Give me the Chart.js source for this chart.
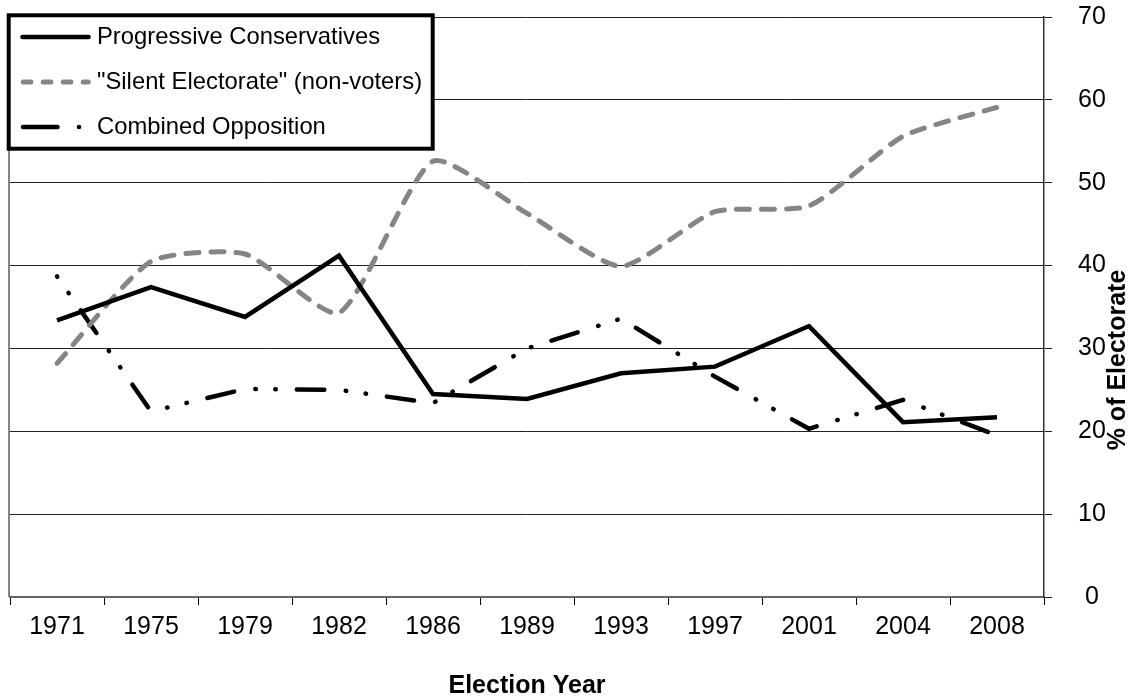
<!DOCTYPE html>
<html>
<head>
<meta charset="utf-8">
<script src="https://cdn.jsdelivr.net/npm/chart.js@4/dist/chart.umd.min.js"></script>
<style>
  html, body { margin: 0; padding: 0; background: #fff; }
  #wrap { width: 1130px; height: 696px; position: relative; }
</style>
</head>
<body>
<div id="wrap"><canvas id="electorateChart"></canvas></div>
<script>
const years = ['1971', '1975', '1979', '1982', '1986', '1989', '1993', '1997', '2001', '2004', '2008'];
const pcShare = [33.4, 37.4, 33.8, 41.2, 24.5, 23.9, 27.0, 27.8, 32.7, 21.1, 21.7];
const silentShare = [28.2, 40.5, 41.4, 34.3, 52.6, 46.3, 39.9, 46.5, 47.2, 55.6, 59.1];
const oppositionShare = [38.7, 22.4, 25.1, 25.0, 23.4, 30.0, 33.6, 26.6, 20.3, 23.8, 19.5];
const yTicks = [0, 10, 20, 30, 40, 50, 60, 70];

const FONT = '"Liberation Sans", Arial, sans-serif';

// legend box, y title and the grey left edge of the plot
const chartDecor = {
    id: 'chartDecor',
    beforeDatasetsDraw(chart) {
        const { ctx, chartArea } = chart;
        ctx.save();
        ctx.strokeStyle = '#858585';
        ctx.lineWidth = 2;
        ctx.beginPath();
        ctx.moveTo(chartArea.left - 1, chartArea.top);
        ctx.lineTo(chartArea.left - 1, chartArea.bottom);
        ctx.stroke();
        ctx.restore();
    },
    afterDraw(chart) {
        const ctx = chart.ctx;
        const sets = chart.data.datasets;

        ctx.save();
        ctx.translate(1118, 360);
        ctx.rotate(-Math.PI / 2);
        ctx.font = 'bold 25px ' + FONT;
        ctx.fillStyle = '#000';
        ctx.textAlign = 'center';
        ctx.textBaseline = 'middle';
        ctx.fillText('% of Electorate', 0, 0);
        ctx.restore();

        ctx.save();
        ctx.fillStyle = '#fff';
        ctx.fillRect(8.7, 15.3, 424, 133.4);
        ctx.strokeStyle = '#000';
        ctx.lineWidth = 4;
        ctx.strokeRect(8.7, 15.3, 424, 133.4);

        const rows = [37, 82, 127];
        sets.forEach((ds, i) => {
            const y = rows[i];
            ctx.strokeStyle = ds.borderColor;
            ctx.fillStyle = ds.borderColor;
            ctx.lineWidth = ds.borderWidth;
            ctx.lineCap = 'round';
            ctx.beginPath();
            if (i === 0) {
                ctx.setLineDash([]);
                ctx.moveTo(22.5, y);
                ctx.lineTo(88.5, y);
                ctx.stroke();
            } else if (i === 1) {
                ctx.setLineDash([7.7, 12.3]);
                ctx.moveTo(23.2, y);
                ctx.lineTo(88.2, y);
                ctx.stroke();
            } else {
                ctx.setLineDash([]);
                ctx.moveTo(23, y);
                ctx.lineTo(57.5, y);
                ctx.stroke();
                ctx.beginPath();
                ctx.arc(79, y, 2.3, 0, Math.PI * 2);
                ctx.fill();
            }
            ctx.setLineDash([]);
            ctx.fillStyle = '#000';
            ctx.font = '23.8px ' + FONT;
            ctx.textAlign = 'left';
            ctx.textBaseline = 'middle';
            ctx.fillText(ds.label, 97, y);
        });
        ctx.restore();
    }
};

new Chart(document.getElementById('electorateChart'), {
    type: 'line',
    data: {
        labels: years,
        datasets: [
            {
                label: 'Progressive Conservatives',
                data: pcShare,
                borderColor: '#000',
                borderWidth: 4.5,
                borderJoinStyle: 'miter',
                tension: 0,
                pointRadius: 0
            },
            {
                label: '"Silent Electorate" (non-voters)',
                data: silentShare,
                borderColor: '#858585',
                borderWidth: 5,
                borderDash: [13, 12],
                borderCapStyle: 'round',
                tension: 0.2,
                pointRadius: 0
            },
            {
                label: 'Combined Opposition',
                data: oppositionShare,
                borderColor: '#000',
                borderWidth: 4.5,
                borderDash: [27.5, 21.5, 0.5, 19.5, 0.5, 21],
                borderDashOffset: 49,
                borderCapStyle: 'round',
                tension: 0,
                pointRadius: 0
            }
        ]
    },
    options: {
        responsive: true,
        maintainAspectRatio: false,
        animation: false,
        layout: { padding: { left: 10, top: 17, right: 0, bottom: 0 } },
        plugins: {
            legend: { display: false },
            tooltip: { enabled: false }
        },
        scales: {
            x: {
                offset: true,
                grid: { offset: true, drawOnChartArea: false, drawTicks: true, tickLength: 8, color: '#000', lineWidth: 1 },
                border: { display: true, color: '#666', width: 2 },
                ticks: { font: { size: 25, family: FONT }, color: '#000', padding: 7, maxRotation: 0, autoSkip: false },
                title: {
                    display: true,
                    text: 'Election Year',
                    color: '#000',
                    font: { size: 25, weight: 'bold', family: FONT, lineHeight: 0.8 },
                    padding: { top: 0, bottom: 0 }
                },
                afterFit(scale) {
                    scale.height = 99;
                    scale.paddingLeft = 0;
                    scale.paddingRight = 0;
                }
            },
            y: {
                position: 'right',
                min: 0,
                max: 70,
                afterBuildTicks(scale) { scale.ticks = yTicks.map(v => ({ value: v })); },
                grid: { color: '#222', lineWidth: 1, tickLength: 8, drawTicks: true },
                border: { color: '#333', width: 1.5 },
                ticks: { font: { size: 25, family: FONT }, color: '#000', padding: 26, crossAlign: 'center' },
                afterFit(scale) {
                    scale.width = 86;
                    scale.paddingTop = 0;
                    scale.paddingBottom = 0;
                }
            }
        }
    },
    plugins: [chartDecor]
});
</script>
</body>
</html>
